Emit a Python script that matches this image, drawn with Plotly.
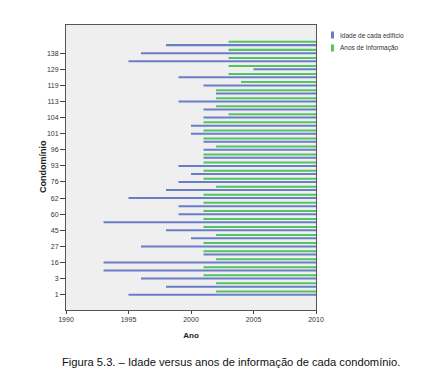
import plotly.graph_objects as go

# Condominium categories (bottom to top); only every other one is labelled
condominios = ["1", "2", "3", "9", "16", "22", "27", "38", "45", "52",
               "60", "61", "62", "70", "76", "85", "93", "94", "96", "99",
               "101", "102", "104", "109", "113", "116", "119", "124", "129", "133",
               "138", "141"]
rotulos = ["1", "3", "16", "27", "45", "60", "62", "76", "93", "96",
           "101", "104", "113", "119", "129", "138"]

# Year of construction (Idade de cada edifício) – start of blue line
ano_construcao = [1995, 1998, 1996, 1993, 1993, 2001, 1996, 2000, 1998, 1993,
                  1999, 1999, 1995, 1998, 1999, 2000, 1999, 2001, 2001, 2001,
                  2000, 2000, 2001, 2001, 1999, 2002, 2001, 1999, 2005, 1995,
                  1996, 1998]
# First year with information (Anos de Informação) – start of green line
ano_informacao = [2002, 2002, 2001, 2001, 2002, 2001, 2001, 2002, 2001, 2001,
                  2001, 2001, 2001, 2002, 2001, 2001, 2001, 2001, 2002, 2001,
                  2001, 2001, 2003, 2002, 2002, 2002, 2004, 2003, 2003, 2003,
                  2003, 2003]
ano_final = 2010

x_ticks = [1990, 1995, 2000, 2005, 2010]

AZUL = "#6a7ec8"
VERDE = "#52c460"
bw = 0.25

fig = go.Figure()
fig.add_trace(go.Bar(
    y=condominios, base=ano_construcao,
    x=[ano_final - a for a in ano_construcao],
    orientation="h", width=bw, offset=-bw / 2,
    marker=dict(color=AZUL, line=dict(width=0)),
    name="Idade de cada edifício", showlegend=False))
fig.add_trace(go.Bar(
    y=condominios, base=ano_informacao,
    x=[ano_final - a for a in ano_informacao],
    orientation="h", width=bw, offset=0.41 - bw / 2,
    marker=dict(color=VERDE, line=dict(width=0)),
    name="Anos de Informação", showlegend=False))

font_fam = "Liberation Sans, Arial, sans-serif"

# page body has an 8px margin: compensate so the plot lands where it should
L, T, R, B = 58, 17, 125, 78
W, H = 433, 380
PW, PH = W - L - R, H - T - B  # 250 x 285

fig.update_layout(
    width=W, height=H,
    margin=dict(l=L, r=R, t=T, b=B, autoexpand=False),
    paper_bgcolor="white", plot_bgcolor="#efefef",
    barmode="overlay",
    font=dict(family=font_fam, size=7, color="#333333"),
    xaxis=dict(range=[1990, 2010], tickvals=x_ticks, ticks="outside",
               ticklen=3, tickcolor="#444", showgrid=False, zeroline=False,
               showline=True, linecolor="#555555", linewidth=1, mirror=True,
               tickfont=dict(size=7, color="#333"),
               title=dict(text="<b>Ano</b>", font=dict(size=8, color="#222"), standoff=9)),
    yaxis=dict(type="category", categoryorder="array", categoryarray=condominios,
               range=[-1.9, 33.5], tickmode="array", tickvals=rotulos, ticktext=rotulos,
               ticks="outside", ticklen=5, tickcolor="#444", showgrid=False,
               showline=True, linecolor="#555555", linewidth=1, mirror=True,
               tickfont=dict(size=7, color="#333")),
)


def px_x(px):
    return (px - 8 - L) / PW


def px_y(py):
    return (T + PH - (py - 8)) / PH


# y-axis title
fig.add_annotation(text="<b>Condomínio</b>", xref="paper", yref="paper",
                   x=px_x(43), y=px_y(167), textangle=-90,
                   xanchor="center", yanchor="middle", showarrow=False,
                   font=dict(size=9, color="#222"))

# Legend (drawn as markers + text to match the original layout)
legend_items = [("Idade de cada edifício", AZUL, 35), ("Anos de Informação", VERDE, 48)]
for texto, cor, py in legend_items:
    yp = px_y(py)
    fig.add_shape(type="rect", xref="paper", yref="paper",
                  x0=px_x(331), x1=px_x(334),
                  y0=yp - 3.5 / PH, y1=yp + 3.5 / PH,
                  fillcolor=cor, line=dict(width=0))
    fig.add_annotation(text=texto, xref="paper", yref="paper",
                       x=px_x(338), y=yp, xanchor="left", yanchor="middle",
                       showarrow=False, font=dict(size=6.5, color="#333"))

fig.add_annotation(
    text="Figura 5.3. – Idade versus anos de informação de cada condomínio.",
    xref="paper", yref="paper", x=px_x(60), y=px_y(362),
    xanchor="left", yanchor="middle", showarrow=False,
    font=dict(size=11.2, color="#111", family=font_fam))

fig.write_html("out.html")
